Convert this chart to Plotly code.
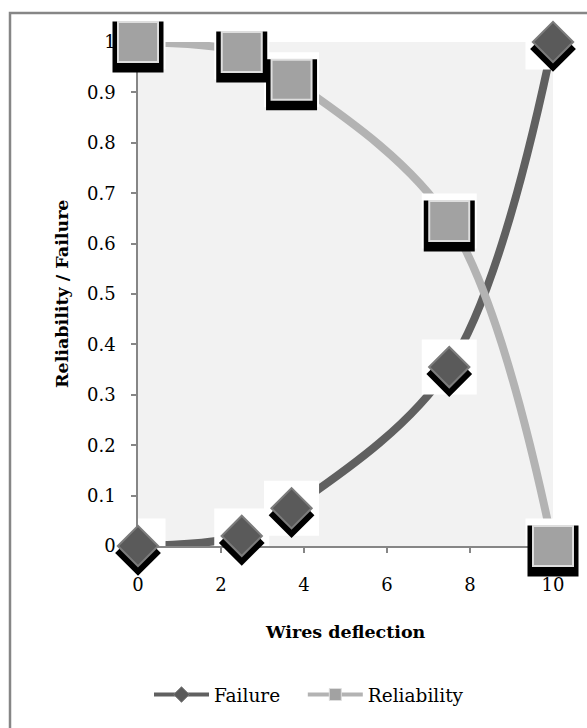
import plotly.graph_objects as go

# ---- data ----
deflection = [0, 2.5, 3.7, 7.5, 10]
failure = [0.0, 0.02, 0.075, 0.355, 1.0]
reliability = [1.0, 0.98, 0.925, 0.645, 0.0]
y_tick_vals = [0, 0.1, 0.2, 0.3, 0.4, 0.5, 0.6, 0.7, 0.8, 0.9, 1]
y_tick_text = ["0", "0.1", "0.2", "0.3", "0.4", "0.5", "0.6", "0.7", "0.8", "0.9", "1"]
x_tick_vals = [0, 2, 4, 6, 8, 10]
x_tick_text = ["0", "2", "4", "6", "8", "10"]
x_range = [0, 10]
y_range = [0, 1]

FONT = "DejaVu Serif"
W, H = 587, 728
ML, MR, MT, MB = 138, 34, 42, 182          # plot-area margins (px)
PW, PH = W - ML - MR, H - MT - MB
E = 30                                       # extra room for marker subplots
PPW, PPH = PW + 2 * E, PH + 2 * E
ux = (x_range[1] - x_range[0]) / PW          # data units per px
uy = (y_range[1] - y_range[0]) / PH
NBSP = "\u00a0"


def px_x(px):
    return (px - (ML - E)) / PPW


def px_y(py):
    return (H - (MB - E) - py) / PPH


series = [
    dict(name="Failure", legend_pad=3, y=failure, line="#606060", symbol="diamond", msize=31,
         mcolor="#5a5a5a", mline="#7c7c7c", ssize=33, shadow_px=7, boxsize=55),
    dict(name="Reliability", legend_pad=0, y=reliability, line="#b3b3b3", symbol="square",
         msize=40, mcolor="#a2a2a2", mline="#dedede", ssize=49, shadow_px=5, boxsize=55),
]

fig = go.Figure()
for s in series:
    fig.add_trace(go.Scatter(x=deflection, y=s["y"], mode="lines",
                             line=dict(color=s["line"], width=8, shape="spline", smoothing=1),
                             cliponaxis=False, showlegend=False, hoverinfo="skip"))
    fig.add_trace(go.Scatter(x=deflection, y=s["y"], mode="markers",
                             marker=dict(symbol="square", size=s["boxsize"], color="white"),
                             cliponaxis=False, showlegend=False, hoverinfo="skip"))
for i, s in enumerate(series):
    fig.add_trace(go.Scatter(x=deflection, y=s["y"], mode="markers",
                             xaxis="x%d" % (2 + i), yaxis="y%d" % (2 + i),
                             marker=dict(symbol=s["symbol"], size=s["ssize"], color="black",
                                         line=dict(color="black", width=2)),
                             cliponaxis=False, showlegend=False, hoverinfo="skip"))
for s in series:
    fig.add_trace(go.Scatter(x=deflection, y=s["y"], mode="markers", xaxis="x4", yaxis="y4",
                             marker=dict(symbol=s["symbol"], size=s["msize"], color=s["mcolor"],
                                         line=dict(color=s["mline"], width=2)),
                             cliponaxis=False, showlegend=False, name=s["name"]))
for s in series:
    fig.add_trace(go.Scatter(x=[None], y=[None], mode="lines+markers",
                             name=s["name"] + NBSP * s["legend_pad"],
                             line=dict(color=s["line"], width=4),
                             marker=dict(symbol=s["symbol"], size=12, color=s["mcolor"],
                                         line=dict(color=s["mline"], width=1))))

axis_gray = "#868686"
ext_x = [x_range[0] - E * ux, x_range[1] + E * ux]
ext_y = [y_range[0] - E * uy, y_range[1] + E * uy]
hidden = dict(visible=False, showgrid=False, zeroline=False, domain=[0, 1], automargin=False)

overlay_axes = {}
for i, s in enumerate(series):
    d = s["shadow_px"] * uy
    overlay_axes["xaxis%d" % (2 + i)] = dict(range=ext_x, anchor="y%d" % (2 + i), **hidden)
    overlay_axes["yaxis%d" % (2 + i)] = dict(range=[ext_y[0] + d, ext_y[1] + d],
                                             anchor="x%d" % (2 + i), **hidden)
overlay_axes["xaxis4"] = dict(range=ext_x, anchor="y4", **hidden)
overlay_axes["yaxis4"] = dict(range=ext_y, anchor="x4", **hidden)

fig.update_layout(
    width=W, height=H, autosize=False,
    margin=dict(l=ML - E, r=MR - E, t=MT - E, b=MB - E, pad=0, autoexpand=False),
    paper_bgcolor="white", plot_bgcolor="rgba(0,0,0,0)",
    font=dict(family=FONT, size=17, color="black"),
    xaxis=dict(range=x_range, domain=[E / PPW, 1 - E / PPW], automargin=False,
               tickvals=x_tick_vals, ticktext=x_tick_text,
               ticks="outside", ticklen=5, tickcolor=axis_gray, tickwidth=1.5,
               showline=True, linecolor=axis_gray, linewidth=1.5,
               showgrid=False, zeroline=False, ticklabelstandoff=17,
               tickfont=dict(family=FONT, size=18, color="black")),
    yaxis=dict(range=y_range, domain=[E / PPH, 1 - E / PPH], automargin=False,
               tickvals=y_tick_vals, ticktext=y_tick_text,
               ticks="outside", ticklen=5, tickcolor=axis_gray, tickwidth=1.5,
               showline=True, linecolor=axis_gray, linewidth=1.5,
               showgrid=False, zeroline=False, ticklabelstandoff=12,
               tickfont=dict(family=FONT, size=18, color="black")),
    legend=dict(orientation="h", x=px_x(309), xanchor="center",
                y=px_y(695), yanchor="middle",
                font=dict(family=FONT, size=18.5, color="black"),
                itemwidth=55, bgcolor="rgba(0,0,0,0)"),
    annotations=[
        dict(text="<b>Reliability / Failure</b>", textangle=-90, xref="paper", yref="paper",
             x=px_x(62), y=px_y(MT + PH / 2), xanchor="center", yanchor="middle",
             showarrow=False, font=dict(family=FONT, size=17.5, color="black")),
        dict(text="<b>Wires deflection</b>", xref="paper", yref="paper",
             x=px_x(ML + PW / 2), y=px_y(632), xanchor="center", yanchor="middle",
             showarrow=False, font=dict(family=FONT, size=17.5, color="black")),
    ],
    shapes=[
        dict(type="rect", xref="x", yref="y", x0=x_range[0], x1=x_range[1],
             y0=y_range[0], y1=y_range[1], fillcolor="#f2f2f2",
             line=dict(width=0), layer="below"),
        dict(type="path", xref="paper", yref="paper",
             path="M {x0},{y0} L {x0},{y1} L {x1},{y1}".format(
                 x0=px_x(10), y0=px_y(760), y1=px_y(13), x1=px_x(620)),
             line=dict(color=axis_gray, width=2.5)),
    ],
    **overlay_axes,
)

fig.write_html("out.html")
